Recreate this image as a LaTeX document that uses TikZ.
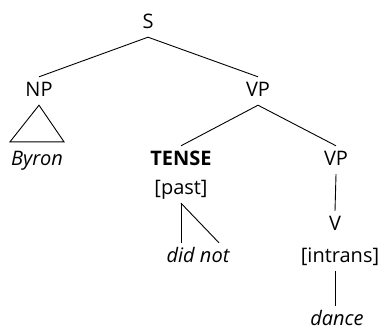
\documentclass[tikz,border=0pt]{standalone}
\usepackage{fontspec}
\setmainfont{Open Sans}
\usepackage{tikz}
\usetikzlibrary{positioning}

\begin{document}
\begin{tikzpicture}[
      x=1pt,y=-1pt,
      cat/.style={anchor=base,inner xsep=0pt,inner ysep=6pt,text height=13pt,text depth=3pt,
                  font=\fontsize{20}{23}\selectfont},
      word/.style={cat,font=\fontsize{20}{23}\selectfont\itshape},
      feat/.style={cat},
      branch/.style={line width=0.9pt,black}]
    \useasboundingbox (0,0) rectangle (379,332);
    \node[cat] (s)    at (148,28)  {S};
    \node[cat] (np)   at (39,96)   {NP};
    \node[cat] (vp)   at (258,96)  {VP};
    \node[word] (byron) at (37,165) {Byron};
    \node[cat,font=\fontsize{20}{23}\selectfont\bfseries] (tense) at (181,165) {TENSE};
    \node[feat] (past) at (181,194) {[past]};
    \node[word] (didnot) at (198,262) {did not};
    \node[cat] (vp2)  at (336,165) {VP};
    \node[cat] (v)    at (335,230) {V};
    \node[feat] (intrans) at (340,262) {[intrans]};
    \node[word] (dance) at (337,325) {dance};
    \draw[branch] (s.south) -- (np.north);
    \draw[branch] (s.south) -- (vp.north);
    \draw[branch] (np.south) -- ([xshift=-27pt,yshift=4pt]byron.north)
                  -- ([xshift=27pt,yshift=4pt]byron.north) -- cycle;
    \draw[branch] (vp.south) -- (tense.north);
    \draw[branch] (vp.south) -- (vp2.north);
    \draw[branch] (past.south) -- (past.south |- didnot.north);
    \draw[branch] (past.south) -- ([xshift=21pt]didnot.north);
    \draw[branch] (vp2.south) -- (v.north);
    \draw[branch] ([xshift=-2pt]dance.north |- intrans.south) -- ([xshift=-2pt]dance.north);
  \end{tikzpicture}
\end{document}
